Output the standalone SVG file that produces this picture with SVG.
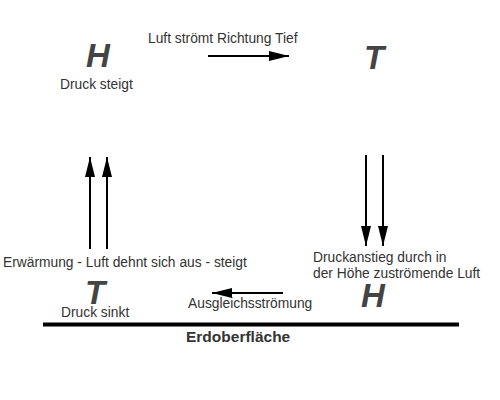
<svg xmlns="http://www.w3.org/2000/svg" width="500" height="400" viewBox="0 0 500 400">
<style>
.t{font-family:"Liberation Sans",Arial,sans-serif;font-size:13.8px;fill:#333}
.big{font-family:"Liberation Sans",Arial,sans-serif;font-size:33px;font-weight:bold;font-style:italic;fill:#444}
.gr{font-family:"Liberation Sans",Arial,sans-serif;font-size:15.5px;font-weight:bold;fill:#333}
.ar{stroke:#000;stroke-width:2;fill:none}
</style>
<defs>
<marker id="ah" viewBox="0 0 20 10" refX="20" refY="5" markerWidth="20" markerHeight="10" markerUnits="userSpaceOnUse" orient="auto">
<path d="M0,0 L20,5 L0,10 Z" fill="#000"/>
</marker>
</defs>
<rect width="500" height="400" fill="#fff"/>
<g id="connectors">
<line class="ar" x1="208" y1="56" x2="289" y2="56" marker-end="url(#ah)"/>
<line class="ar" x1="283" y1="293" x2="212" y2="293" marker-end="url(#ah)"/>
<line class="ar" x1="90" y1="249" x2="90" y2="157" marker-end="url(#ah)"/>
<line class="ar" x1="107" y1="249" x2="107" y2="157" marker-end="url(#ah)"/>
<line class="ar" x1="366" y1="155" x2="366" y2="246" marker-end="url(#ah)"/>
<line class="ar" x1="383" y1="155" x2="383" y2="246" marker-end="url(#ah)"/>
</g>
<g id="ground">
<line x1="43" y1="324.5" x2="459" y2="324.5" stroke="#000" stroke-width="4"/>
<text class="gr" x="186" y="342">Erdoberfläche</text>
</g>
<g id="high-top">
<text class="big" x="86" y="67">H</text>
<text class="t" x="60" y="89">Druck steigt</text>
</g>
<g id="flow-top">
<text class="t" x="148" y="43">Luft strömt Richtung Tief</text>
</g>
<g id="low-top">
<text class="big" x="364" y="69">T</text>
</g>
<g id="rise-label">
<text class="t" x="3" y="267">Erwärmung - Luft dehnt sich aus - steigt</text>
</g>
<g id="low-bottom">
<text class="big" x="85" y="304">T</text>
<text class="t" x="61" y="317">Druck sinkt</text>
</g>
<g id="flow-bottom">
<text class="t" x="188" y="308">Ausgleichsströmung</text>
</g>
<g id="high-bottom">
<text class="t" x="313" y="262">Druckanstieg durch in</text>
<text class="t" x="313" y="278">der Höhe zuströmende Luft</text>
<text class="big" x="361" y="307">H</text>
</g>
</svg>
